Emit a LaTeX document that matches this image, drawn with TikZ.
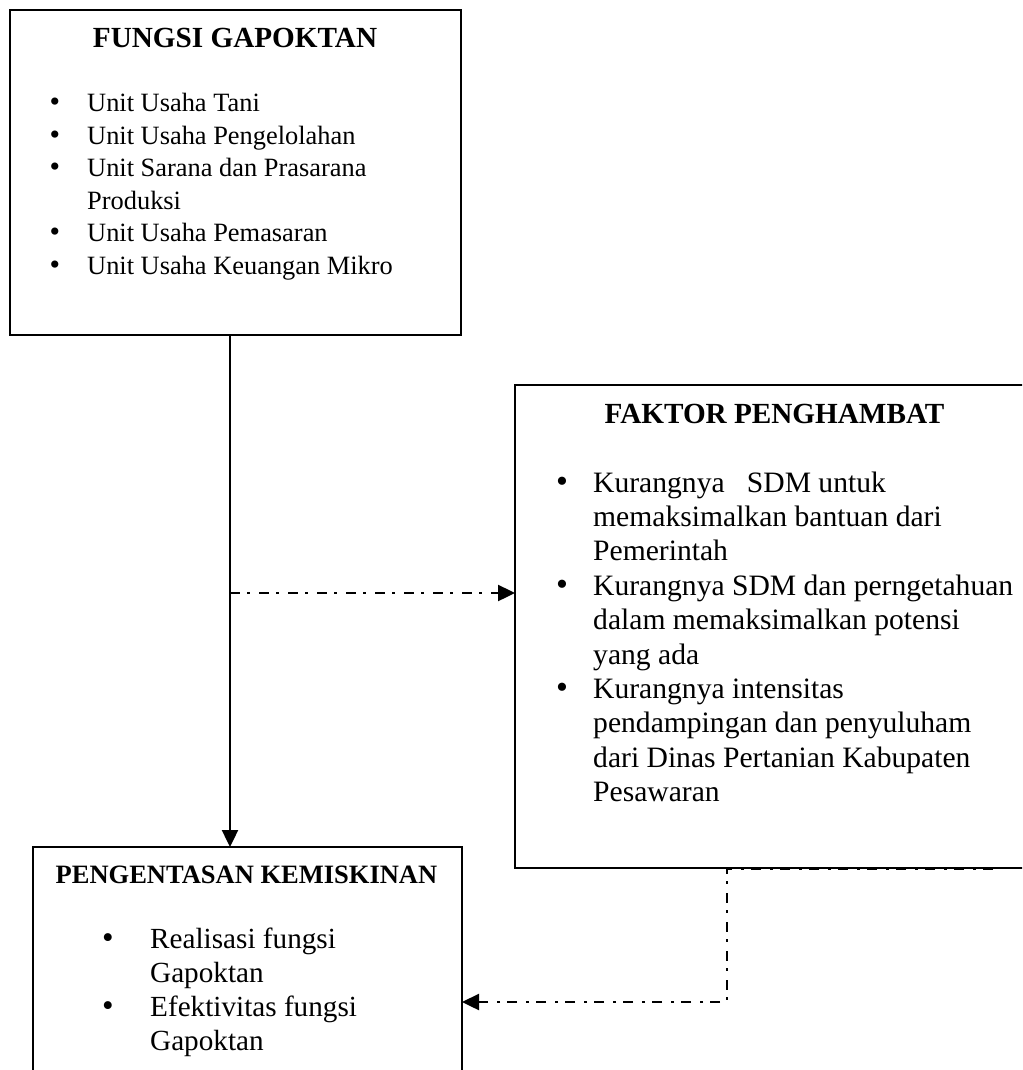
\documentclass[tikz,border=0pt]{standalone}
\usepackage{fontspec}
\setmainfont{Liberation Serif}
\usetikzlibrary{positioning,calc,arrows.meta}

\begin{document}
\begin{tikzpicture}[x=1pt,y=1pt]
    \tikzstyle{box}=[draw=black,line width=1.9,rectangle,inner sep=0,outer sep=0,fill=none]
    \tikzstyle{ttl}=[inner sep=0,anchor=base,font=\bfseries\fontsize{29.2}{34}\selectfont]
    \tikzstyle{fgitem}=[inner sep=0,anchor=base west,font=\fontsize{26.4}{32}\selectfont]
    \tikzstyle{fkitem}=[fgitem,font=\fontsize{29.6}{34}\selectfont]
    \tikzstyle{enitem}=[fgitem,font=\fontsize{29.2}{34}\selectfont]
    \tikzstyle{bul}=[inner sep=0,anchor=base]
    \tikzstyle{flow}=[line width=2.4,-{Triangle[length=17,width=16]}]
    \tikzstyle{dashflow}=[flow,dash pattern=on 10 off 7 on 3 off 9]

    \useasboundingbox (0,0) rectangle (1022,-1070);
    \clip (0,0) rectangle (1022,-1070);

    % the three boxes
    \node[box,minimum width=451,minimum height=325] (fungsi) at (235.5,-172.5) {};
    \node[box,minimum width=519,minimum height=483] (faktor) at (774.5,-626.5) {};
    \node[box,minimum width=429,minimum height=260] (entas) at (247.5,-977) {};

    \node[ttl] (fungsiT) at (235,-48) {FUNGSI GAPOKTAN};
    \node[ttl] (faktorT) at (774.5,-423) {FAKTOR PENGHAMBAT};
    \node[ttl,font=\bfseries\fontsize{26.5}{30}\selectfont] (entasT) at (246.5,-883) {PENGENTASAN KEMISKINAN};

    % fungsi gapoktan
    \foreach \t [count=\i from 0] in {Unit Usaha Tani,Unit Usaha Pengelolahan,Unit Sarana dan Prasarana,Produksi,Unit Usaha Pemasaran,Unit Usaha Keuangan Mikro}
        \node[fgitem] (fg\i) at (87,{-112-32.4*\i}) {\t};
    \foreach \i in {0,1,2,4,5}
        \node[bul,font=\fontsize{30}{32}\selectfont] (fgb\i) at (55,{-112-32.4*\i}) {•};

    % faktor penghambat
    \foreach \t [count=\i from 0] in {Kurangnya\ \ \ SDM untuk,memaksimalkan bantuan dari,Pemerintah,Kurangnya SDM dan perngetahuan,dalam memaksimalkan potensi,yang ada,Kurangnya intensitas,pendampingan dan penyuluham,dari Dinas Pertanian Kabupaten,Pesawaran}
        \node[fkitem] (fk\i) at (593,{-492-34.4*\i}) {\t};
    \foreach \i in {0,3,6}
        \node[bul,font=\fontsize{34}{34}\selectfont] (fkb\i) at (562,{-492-34.4*\i}) {•};

    % pengentasan kemiskinan
    \foreach \t [count=\i from 0] in {Realisasi fungsi,Gapoktan,Efektivitas fungsi,Gapoktan}
        \node[enitem] (en\i) at (150,{-948-34.3*\i}) {\t};
    \foreach \i in {0,2}
        \node[bul,font=\fontsize{33}{34}\selectfont] (enb\i) at (108,{-948-34.3*\i}) {•};

    % connectors
    \coordinate (top) at (230,-335);
    \coordinate (split) at (230,-593);
    \coordinate (fb1) at (993,-869);
    \coordinate (fb2) at (727,-869);
    \coordinate (fb3) at (727,-1002);
    \draw[flow] (top) -- (top |- entas.north);
    \draw[dashflow] (split) -- (split -| faktor.west);
    \draw[dashflow] (fb1) -- (fb2) -- (fb3) -- (fb3 -| entas.east);
\end{tikzpicture}
\end{document}
